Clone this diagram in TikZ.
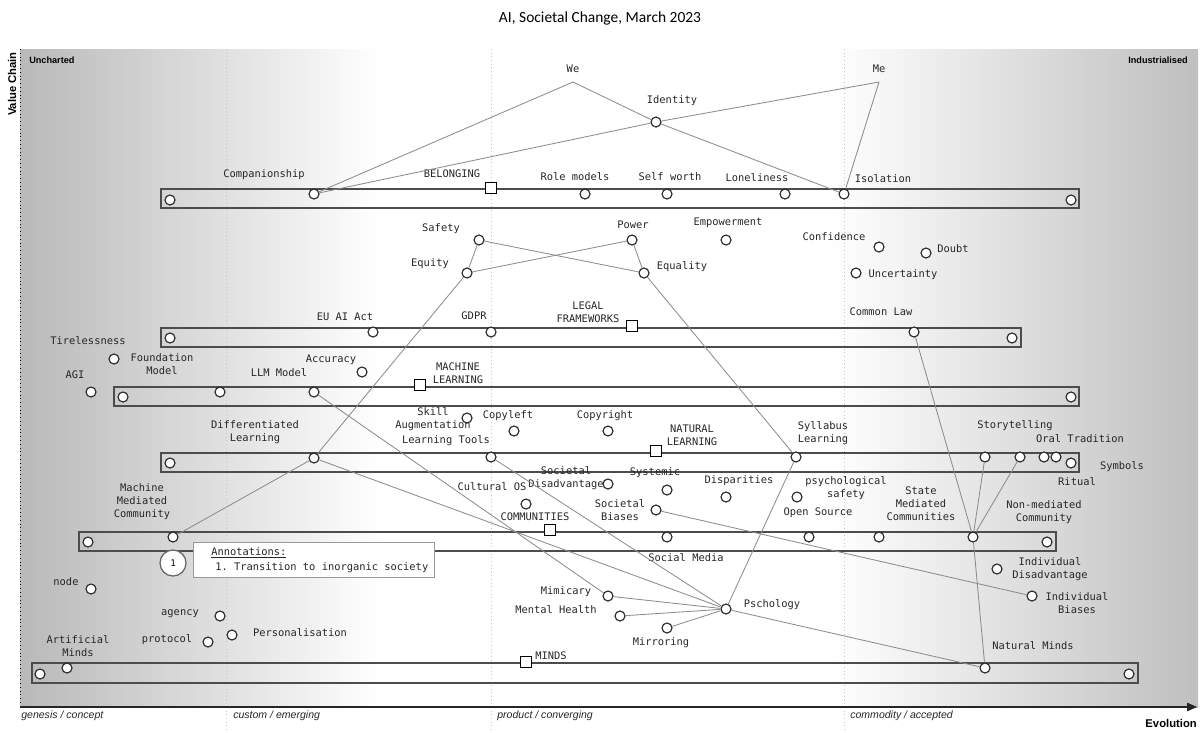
\documentclass[tikz,border=0pt]{standalone}
\usepackage{fontspec}
\setmonofont{DejaVu Sans Mono}
\setsansfont{Liberation Sans}
\newfontfamily\titlefont{Carlito}
\usetikzlibrary{arrows.meta}

\tikzstyle{comp}=[
    circle,
    draw=black!85,
    fill=white,
    line width=0.8pt,
    minimum size=0.25cm,
    inner sep=0pt,
  ]
\tikzstyle{pipecomp}=[
    rectangle,
    draw,
    fill=white,
    line width=1.1pt,
    minimum size=0.27cm,
    inner sep=0pt,
  ]
\tikzstyle{pipe}=[
    draw=black!70,
    line width=0.9pt,
  ]
\tikzstyle{lbl}=[
    font=\ttfamily\fontsize{7.4}{9.2}\selectfont,
    align=center,
    inner sep=0pt,
    text=black!85,
  ]
\tikzstyle{dep}=[
    draw=black!45,
    line width=0.6pt,
  ]
\tikzstyle{phase}=[
    font=\sffamily\itshape\fontsize{7.5}{9}\selectfont,
    anchor=west,
    inner sep=0pt,
    text=black!85,
  ]
\tikzstyle{stage}=[
    font=\sffamily\bfseries\fontsize{6.5}{8}\selectfont,
    inner sep=0pt,
  ]

\begin{document}
\begin{tikzpicture}[x=0.025cm, y=-0.025cm]
      \useasboundingbox (0,0) rectangle (1200,732);
      % map background
      \fill[left color=gray!55, right color=white] (20,49) rectangle (380,707);
      \fill[left color=white, right color=gray!50] (830,49) rectangle (1198,707);
      \foreach \x in {226, 491, 844} {%
        \draw[gray!45, dotted, line width=0.6pt] (\x,49) -- (\x,732);
      }
      \draw[dotted, line width=0.7pt] (20,49) -- (20,707);
      \draw[-{Triangle[length=7pt,width=6pt]}, black!85, line width=0.8pt] (20,707) -- (1197,707);

      \node[font=\titlefont\fontsize{11}{13}\selectfont] (title) at (600,18) {AI, Societal Change, March 2023};
      \node[stage, font=\sffamily\bfseries\fontsize{8}{9}\selectfont, rotate=90] (vchain) at (12,84) {Value Chain};
      \node[stage, anchor=west] (unch) at (29,60) {Uncharted};
      \node[stage, anchor=east] (indus) at (1188,60) {Industrialised};
      \node[stage, font=\sffamily\bfseries\fontsize{8}{9}\selectfont, anchor=east] (evol) at (1197,723) {Evolution};
      \node[phase] (ph1) at (21,716) {genesis / concept};
      \node[phase] (ph2) at (233,716) {custom / emerging};
      \node[phase] (ph3) at (497,716) {product / converging};
      \node[phase] (ph4) at (850,716) {commodity / accepted};

      % pipelines
      \foreach \xa/\ya/\xb/\yb [count=\i] in {161/189/1079/208, 161/328/1021/347, 114/387/1079/406,
          161/453/1079/472, 79/532/1056/551, 32/663/1138/683} {%
        \draw[pipe] (\xa,\ya) rectangle (\xb,\yb);
      }
      \foreach \x/\y [count=\i] in {170/200, 1071/200, 170/338, 1012/338, 123/397, 1071/397,
          170/463, 1071/463, 88/542, 1047/542, 40/674, 1129/674} {%
        \node[comp] (end\i) at (\x,\y) {};
      }
      \foreach \nm/\x/\y/\lx/\ly/\txt in {belong/491/188/452/174/BELONGING,
          legal/632/326/588/312/{LEGAL\\FRAMEWORKS},
          ml/420/385/458/373/{MACHINE\\LEARNING},
          natlearn/656/451/692/435/{NATURAL\\LEARNING},
          commun/550/530/535/517/COMMUNITIES,
          minds/526/662/551/656/MINDS} {%
        \node[pipecomp] (\nm) at (\x,\y) {};
        \node[lbl] (\nm-l) at (\lx,\ly) {\txt};
      }

      % users
      \coordinate (we) at (573,82);
      \coordinate (me) at (879,82);
      \node[lbl] (we-l) at (573,69) {We};
      \node[lbl] (me-l) at (879,69) {Me};

      % components
      \foreach \nm/\x/\y/\lx/\ly/\txt in {compan/314/194/264/175/Companionship,
          rolemod/585/194/575/177/Role models, selfw/667/194/670/177/Self worth,
          lonely/785/194/757/178/Loneliness, isol/844/194/883/179/Isolation,
          ident/656/122/672/101/Identity, safety/479/240/441/229/Safety,
          power/632/240/633/225/Power, empower/726/240/728/223/Empowerment,
          confid/879/247/834/237/Confidence, doubt/926/253/953/249/Doubt,
          uncert/856/273/903/275/Uncertainty, equity/467/273/430/264/Equity,
          equal/644/273/682/267/Equality, euact/373/332/345/317/EU AI Act,
          gdpr/491/332/474/316/GDPR, comlaw/914/332/881/312/Common Law,
          tireless/114/359/88/341/Tirelessness, agi/91/392/75/375/AGI,
          found/220/392/162/364/{Foundation\\Model}, llm/314/392/279/373/LLM Model,
          accur/362/372/331/360/Accuracy, skill/467/418/433/419/{Skill\\Augmentation},
          copyleft/514/431/508/416/Copyleft, copyright/608/431/605/416/Copyright,
          ltools/491/457/446/441/Learning Tools,
          difflearn/314/458/255/432/{Differentiated\\Learning},
          syllab/796/457/823/433/{Syllabus\\Learning},
          story/985/457/1015/426/Storytelling, oral/1020/457/1080/439/Oral Tradition,
          ritual/1044/457/1077/482/Ritual, symbols/1056/457/1122/467/Symbols,
          mmc/173/537/142/502/{Machine\\Mediated\\Community},
          socmed/667/537/686/558/Social Media, opensrc/809/537/818/513/Open Source,
          smc/879/537/921/504/{State\\Mediated\\Communities},
          nmc/973/537/1044/512/{Non-mediated\\Community},
          cultos/526/504/492/487/Cultural OS,
          socdis/608/484/566/478/{Societal\\Disadvantage},
          systemic/667/490/655/473/Systemic, dispar/726/497/739/481/Disparities,
          psysafe/797/497/846/488/{psychological\\safety},
          socbias/656/510/620/510/{Societal\\Biases},
          indis/997/569/1050/569/{Individual\\Disadvantage},
          indbias/1032/596/1077/603/{Individual\\Biases},
          nodept/91/589/66/582/node, agency/220/616/180/614/agency,
          protocol/208/642/167/640/protocol, personal/232/635/300/633/Personalisation,
          artmind/67/668/78/646/{Artificial\\Minds},
          mimic/608/596/566/592/Mimicary, mental/620/616/556/610/Mental Health,
          mirror/667/628/661/643/Mirroring, psych/726/609/772/605/Pschology,
          natmind/985/668/1033/646/Natural Minds} {%
        \node[comp] (\nm) at (\x,\y) {};
        \node[lbl] (\nm-l) at (\lx,\ly) {\txt};
      }

      % dependencies
      \foreach \a/\b in {we/compan, we/ident, me/ident, me/isol, ident/compan, ident/isol,
          safety/equity, safety/equal, power/equity, power/equal,
          equity/difflearn, difflearn/mmc, equal/syllab, syllab/psych,
          comlaw/nmc, story/nmc, oral/nmc, nmc/natmind,
          llm/mimic, mimic/psych, mental/psych, mirror/psych,
          difflearn/psych, ltools/psych, psych/natmind, socbias/indbias} {%
        \draw[dep] (\a) to (\b);
      }

      % annotations
      \node[draw=black!40, fill=white, line width=0.6pt, anchor=north west,
        minimum width=6.025cm, minimum height=0.875cm] (annbox) at (193,542) {};
      \node[lbl, anchor=west] (annhead) at (211,553) {\underline{Annotations:}};
      \node[lbl, anchor=west] (annitem) at (215,568) {1. Transition to inorganic society};
      \node[circle, draw=black!60, fill=white, line width=0.9pt, minimum size=0.65cm,
        inner sep=0pt, font=\ttfamily\fontsize{6.5}{8}\selectfont] (ann1) at (173,563) {1};
    \end{tikzpicture}
\end{document}
